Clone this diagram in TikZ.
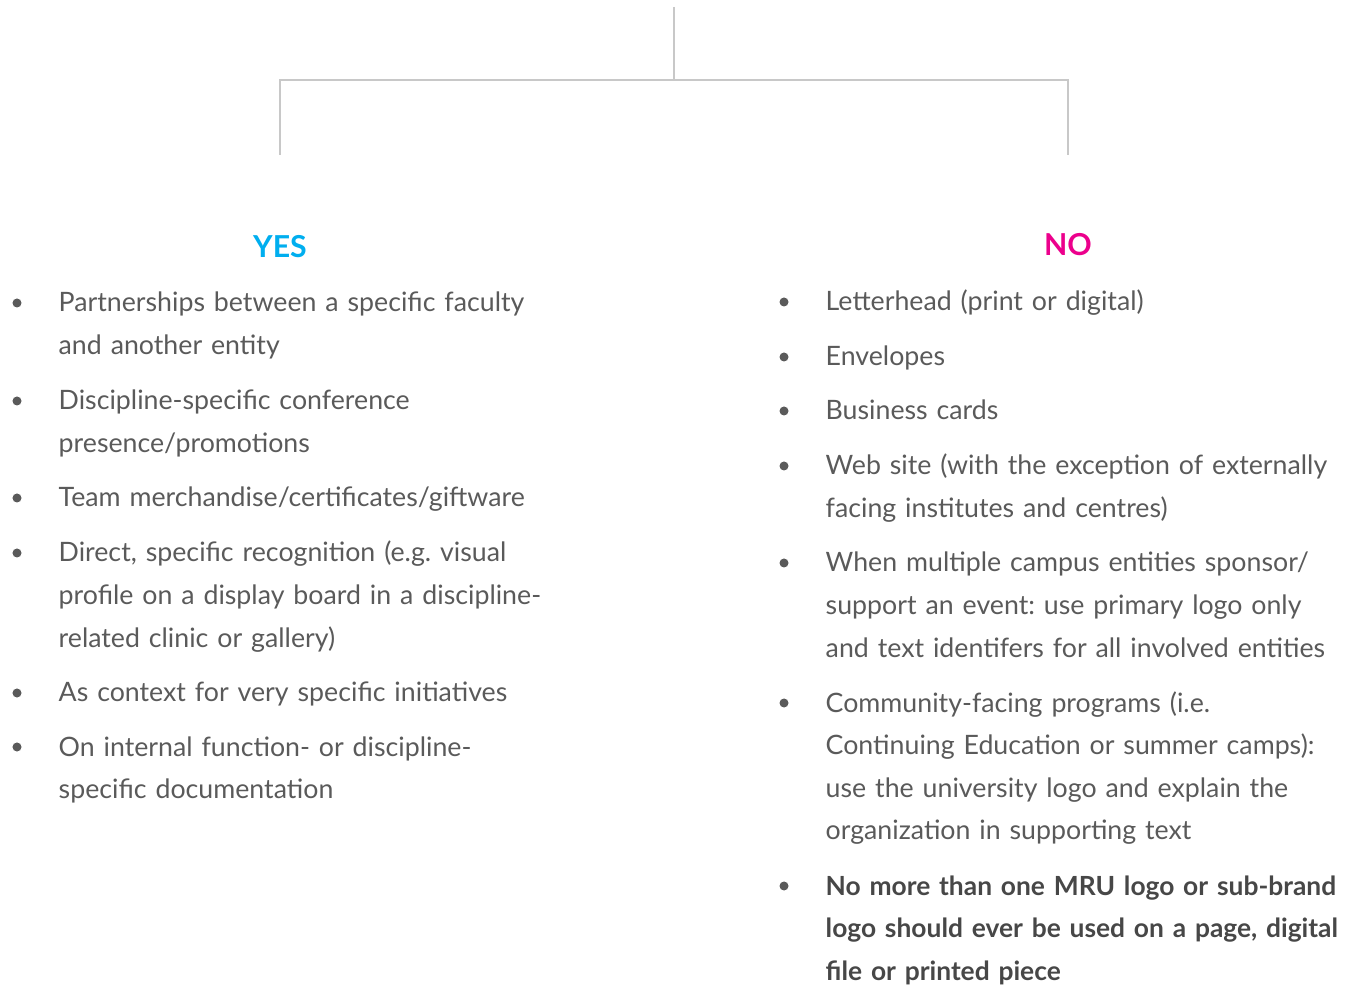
\documentclass[tikz,border=0pt]{standalone}
\usepackage{fontspec}
\setmainfont{Lato}
\frenchspacing
\usetikzlibrary{positioning}
\definecolor{yescyan}{HTML}{00AEEF}
\definecolor{nomagenta}{HTML}{EC008C}
\definecolor{textgray}{HTML}{5A5A5A}
\definecolor{boldgray}{HTML}{474747}
\definecolor{linegray}{HTML}{C8C8C8}
\tikzset{
    branch/.style = {draw=linegray, line width=0.6pt},
    heading/.style = {anchor=base, inner sep=0pt, font=\fontsize{8.6}{10}\selectfont\bfseries},
    entry/.style = {anchor=base west, align=left, text width=5.8cm, inner sep=0pt, text=textgray, font=\fontsize{7.6}{12.1}\selectfont},
    entryb/.style = {entry, text=boldgray, font=\fontsize{7.5}{12.1}\selectfont\bfseries},
    dot/.style = {circle, fill=textgray, inner sep=0pt, minimum size=0.09cm},
}

\begin{document}
\begin{tikzpicture}[x=0.01cm,y=-0.01cm]
%
\path[use as bounding box] (0,0) rectangle (1352,986);
%
\coordinate (top) at (674,7);
\coordinate (split) at (674,80);
\coordinate (yestop) at (280,155);
\coordinate (notop) at (1068,155);
\draw[branch] (top) -- (split);
\draw[branch] (yestop) |- (split) -| (notop);
%
\node[heading, text=yescyan] (yes) at (280,258) {YES};
\node[heading, text=nomagenta] (no) at (1068,256) {NO};
%
\node[entry] (y1) at (58,312) {Partnerships between a specific faculty\\and another entity};
\node[entry] (y2) at (58,410) {Discipline-specific conference\\presence/promotions};
\node[entry] (y3) at (58,507) {Team merchandise/certificates/giftware};
\node[entry] (y4) at (58,562) {Direct, specific recognition (e.g. visual\\profile on a display board in a discipline-\\related clinic or gallery)};
\node[entry] (y5) at (58,702) {As context for very specific initiatives};
\node[entry] (y6) at (58,756) {On internal function- or discipline-\\specific documentation};
%
\node[entry] (n1) at (825,311) {Letterhead (print or digital)};
\node[entry] (n2) at (825,366) {Envelopes};
\node[entry] (n3) at (825,420) {Business cards};
\node[entry] (n4) at (825,475) {Web site (with the exception of externally\\facing institutes and centres)};
\node[entry] (n5) at (825,572) {When multiple campus entities sponsor/\\support an event: use primary logo only\\and text identifers for all involved entities};
\node[entry] (n6) at (825,712) {Community-facing programs (i.e.\\Continuing Education or summer camps):\\use the university logo and explain the\\organization in supporting text};
\node[entryb] (n7) at (825,895) {No more than one MRU logo or sub-brand\\logo should ever be used on a page, digital\\file or printed piece};
%
\foreach \y in {303,401,498,553,693,747} \node[dot] at (17,\y) {};
\foreach \y in {302,357,411,466,563,703,886} \node[dot] at (784,\y) {};
\end{tikzpicture}
\end{document}
